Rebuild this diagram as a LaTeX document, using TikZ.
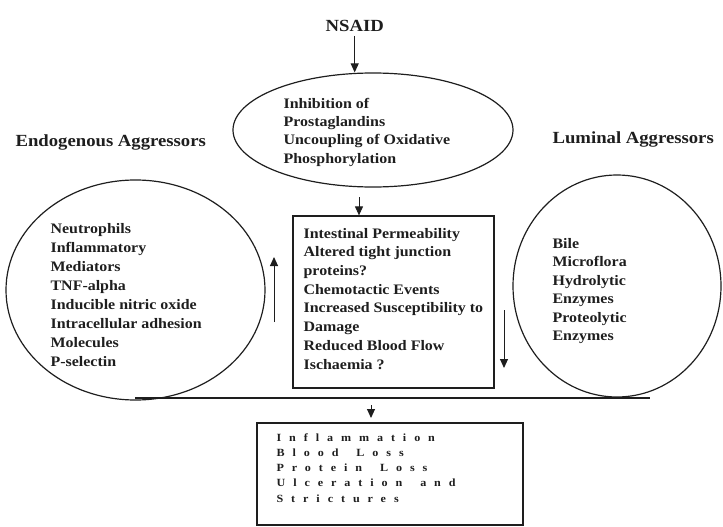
\documentclass[tikz,border=0pt]{standalone}
\usepackage{fontspec}
\setmainfont{Liberation Serif}[FakeStretch=1.1]
\usetikzlibrary{shapes.geometric,arrows.meta}
\definecolor{ink}{RGB}{30,30,30}
\newcommand{\wgap}{\hspace{7pt}}
\begin{document}
\begin{tikzpicture}[x=1pt,y=-1pt, line width=1.2pt, color=ink,
  lbl/.style={inner sep=0pt, anchor=base west, align=left, font=\fontsize{14.5}{19}\selectfont\bfseries},
  head/.style={inner sep=0pt, anchor=base west, font=\fontsize{17}{20}\selectfont\bfseries},
  arr/.style={-{Triangle[width=8pt,length=9pt]}, line width=1pt},
  oval/.style={ellipse, draw, inner sep=0pt}]
\useasboundingbox (0,0) rectangle (723,527);

% headings
\node[head] (nsaid) at (325,32) {NSAID};
\node[head] (endo) at (15,146) {Endogenous Aggressors};
\node[head] (lum) at (552,143) {Luminal Aggressors};

% shapes
\node[oval, minimum width=280pt, minimum height=114pt] (ell) at (373,130) {};
\node[oval, minimum width=259pt, minimum height=220pt] (lc) at (135.5,290) {};
\node[oval, minimum width=208pt, minimum height=222pt] (rc) at (617,286) {};
\node[draw, inner sep=0pt, minimum width=201pt, minimum height=172pt] (box) at (393.5,302) {};
\node[draw, inner sep=0pt, line width=1.8pt, minimum width=266pt, minimum height=102pt] (out) at (390,474) {};

% texts (anchor = baseline of the last line)
\node[lbl, font=\fontsize{14.5}{18.3}\selectfont\bfseries] (ellt) at (283,163)
  {Inhibition of\\Prostaglandins\\Uncoupling of Oxidative\\Phosphorylation};
\node[lbl] (lct) at (50,366)
  {Neutrophils\\Inflammatory\\Mediators\\TNF-alpha\\Inducible nitric oxide\\Intracellular adhesion\\Molecules\\P-selectin};
\node[lbl, font=\fontsize{14.5}{18.7}\selectfont\bfseries] (boxt) at (303,369)
  {Intestinal Permeability\\Altered tight junction\\proteins?\\Chemotactic Events\\Increased Susceptibility to\\Damage\\Reduced Blood Flow\\Ischaemia ?};
\node[lbl, font=\fontsize{14.5}{18.5}\selectfont\bfseries] (rct) at (552,340.5)
  {Bile\\Microflora\\Hydrolytic\\Enzymes\\Proteolytic\\Enzymes};
\node[lbl, font=\fontsize{11}{15.2}\selectfont\bfseries\addfontfeature{LetterSpace=72}] (outt) at (276,502)
  {Inflammation\\Blood \wgap Loss\\Protein \wgap Loss\\Ulceration \wgap and\\Strictures};

% connectors
\draw[arr] ([yshift=-3pt]nsaid.south) -- (nsaid.south |- ell.north);
\coordinate (a1) at (359,197);
\draw[arr] (a1) -- (a1 |- box.north);
\coordinate (u0) at (274,322);
\coordinate (u1) at (274,257);
\draw[arr] (u0) -- (u1);
\coordinate (d0) at (504,310);
\coordinate (d1) at (504,368);
\draw[arr] (d0) -- (d1);
\coordinate (h0) at (135,398);
\coordinate (h1) at (650,398);
\draw (h0) -- (h1);
\coordinate (b0) at (371,405);
\coordinate (b1) at (371,418);
\draw[arr] (b0) -- (b1);
\end{tikzpicture}
\end{document}
